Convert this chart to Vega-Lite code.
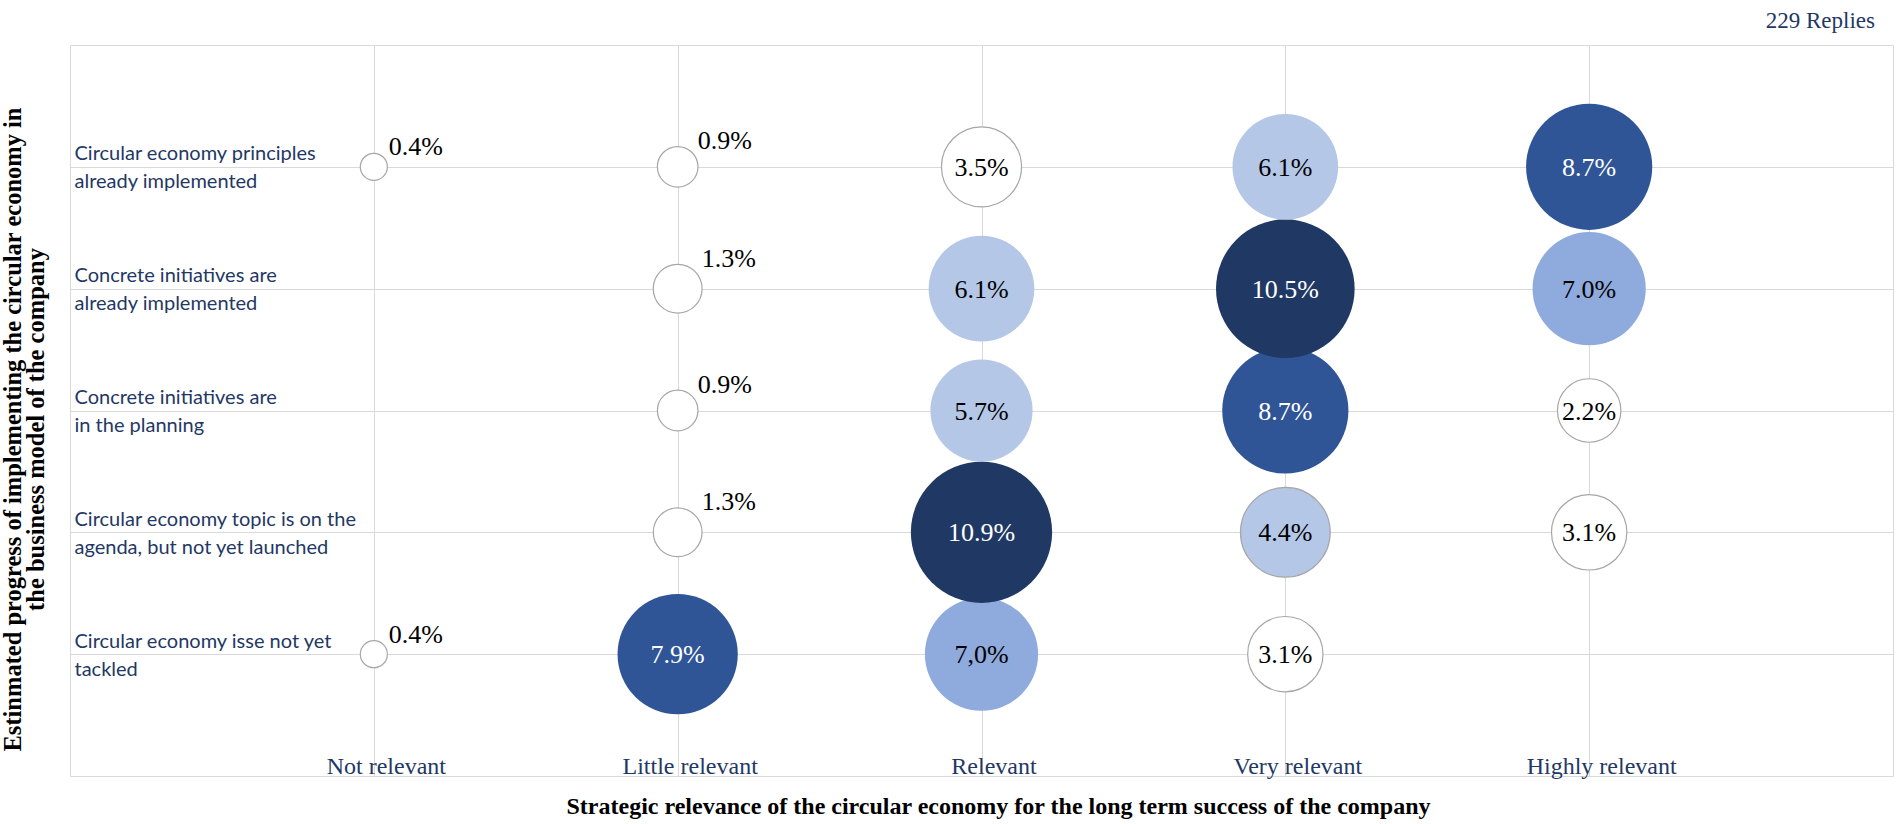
{
  "$schema": "https://vega.github.io/schema/vega-lite/v6.json",
  "width": 1823,
  "height": 731,
  "autosize": "none",
  "padding": {"left": 70, "top": 45, "right": 8, "bottom": 48},
  "background": "white",
  "title": {"text": "229 Replies", "anchor": "end", "orient": "top", "font": "Liberation Serif", "fontSize": 23, "fontWeight": "normal", "color": "#1f3864", "offset": 12, "dx": -18},
  "data": {"values": [
    {"relevance": "Not relevant", "progress": "Circular economy principles already implemented", "pct": 0.4, "label": "0.4%"},
    {"relevance": "Not relevant", "progress": "Circular economy isse not yet tackled", "pct": 0.4, "label": "0.4%"},
    {"relevance": "Little relevant", "progress": "Circular economy principles already implemented", "pct": 0.9, "label": "0.9%"},
    {"relevance": "Little relevant", "progress": "Concrete initiatives are already implemented", "pct": 1.3, "label": "1.3%"},
    {"relevance": "Little relevant", "progress": "Concrete initiatives are in the planning", "pct": 0.9, "label": "0.9%"},
    {"relevance": "Little relevant", "progress": "Circular economy topic is on the agenda, but not yet launched", "pct": 1.3, "label": "1.3%"},
    {"relevance": "Little relevant", "progress": "Circular economy isse not yet tackled", "pct": 7.9, "label": "7.9%"},
    {"relevance": "Relevant", "progress": "Circular economy principles already implemented", "pct": 3.5, "label": "3.5%"},
    {"relevance": "Relevant", "progress": "Concrete initiatives are in the planning", "pct": 5.7, "label": "5.7%"},
    {"relevance": "Relevant", "progress": "Concrete initiatives are already implemented", "pct": 6.1, "label": "6.1%"},
    {"relevance": "Relevant", "progress": "Circular economy isse not yet tackled", "pct": 7.0, "label": "7,0%"},
    {"relevance": "Relevant", "progress": "Circular economy topic is on the agenda, but not yet launched", "pct": 10.9, "label": "10.9%"},
    {"relevance": "Very relevant", "progress": "Circular economy isse not yet tackled", "pct": 3.1, "label": "3.1%"},
    {"relevance": "Very relevant", "progress": "Circular economy topic is on the agenda, but not yet launched", "pct": 4.4, "label": "4.4%"},
    {"relevance": "Very relevant", "progress": "Concrete initiatives are in the planning", "pct": 8.7, "label": "8.7%"},
    {"relevance": "Very relevant", "progress": "Concrete initiatives are already implemented", "pct": 10.5, "label": "10.5%"},
    {"relevance": "Very relevant", "progress": "Circular economy principles already implemented", "pct": 6.1, "label": "6.1%"},
    {"relevance": "Highly relevant", "progress": "Circular economy topic is on the agenda, but not yet launched", "pct": 3.1, "label": "3.1%"},
    {"relevance": "Highly relevant", "progress": "Concrete initiatives are in the planning", "pct": 2.2, "label": "2.2%"},
    {"relevance": "Highly relevant", "progress": "Concrete initiatives are already implemented", "pct": 7.0, "label": "7.0%"},
    {"relevance": "Highly relevant", "progress": "Circular economy principles already implemented", "pct": 8.7, "label": "8.7%"}
  ]},
  "encoding": {
    "x": {
      "field": "relevance", "type": "nominal",
      "scale": {"type": "point", "padding": 1, "domain": ["Not relevant", "Little relevant", "Relevant", "Very relevant", "Highly relevant"]},
      "axis": {
        "title": "Strategic relevance of the circular economy for the long term success of the company",
        "titleFont": "Liberation Serif", "titleFontSize": 24, "titleFontWeight": "bold", "titleColor": "#000000", "titlePadding": 16, "titleX": 928,
        "labelFont": "Liberation Serif", "labelFontSize": 24, "labelColor": "#1f3864", "labelAngle": 0,
        "labelPadding": -3, "labelBaseline": "alphabetic", "labelOffset": 12,
        "ticks": false, "domain": false, "grid": true, "gridColor": "#d9d9d9", "gridWidth": 1
      }
    },
    "y": {
      "field": "progress", "type": "nominal",
      "scale": {"type": "point", "padding": 1, "domain": [
        "Circular economy principles already implemented",
        "Concrete initiatives are already implemented",
        "Concrete initiatives are in the planning",
        "Circular economy topic is on the agenda, but not yet launched",
        "Circular economy isse not yet tackled"
      ]},
      "axis": {
        "title": ["Estinmated progress of implementing the circular economy in", "the business model of the company"],
        "titleFont": "Liberation Serif", "titleFontSize": 24.5, "titleFontWeight": "bold", "titleColor": "#000000", "titlePadding": 22, "titleLineHeight": 23, "titleY": 384,
        "labelFont": "Lato", "labelFontSize": 20, "labelLineHeight": 28, "labelColor": "#1f3864",
        "labelAlign": "left", "labelBaseline": "middle", "labelPadding": -4, "labelLimit": 500, "labelOffset": -13,
        "labelExpr": "datum.label == 'Circular economy principles already implemented' ? ['Circular economy principles', 'already implemented'] : datum.label == 'Concrete initiatives are already implemented' ? ['Concrete initiatives are', 'already implemented'] : datum.label == 'Concrete initiatives are in the planning' ? ['Concrete initiatives are', 'in the planning'] : datum.label == 'Circular economy topic is on the agenda, but not yet launched' ? ['Circular economy topic is on the', 'agenda, but not yet launched'] : ['Circular economy isse not yet', 'tackled']",
        "ticks": false, "domain": false, "grid": true, "gridColor": "#d9d9d9", "gridWidth": 1
      }
    }
  },
  "layer": [
    {
      "mark": {"type": "circle", "opacity": 1, "fillOpacity": 1, "stroke": "#a6a6a6", "strokeWidth": 1.2},
      "encoding": {
        "size": {"field": "pct", "type": "quantitative", "scale": {"type": "linear", "zero": true, "domain": [0, 10.9], "range": [0, 19950]}, "legend": null},
        "color": {"field": "pct", "type": "quantitative", "scale": {"type": "threshold", "domain": [4, 6.5, 7.5, 10], "range": ["#ffffff", "#b4c7e7", "#8faadc", "#2f5597", "#203864"]}, "legend": null},
        "strokeOpacity": {"field": "pct", "type": "quantitative", "scale": {"type": "threshold", "domain": [5], "range": [1, 0]}, "legend": null}
      }
    },
    {
      "transform": [{"filter": "datum.pct >= 2"}],
      "mark": {"type": "text", "font": "Liberation Serif", "fontSize": 26, "align": "center", "baseline": "middle", "dy": 1},
      "encoding": {
        "text": {"field": "label"},
        "color": {"field": "pct", "type": "quantitative", "scale": {"type": "threshold", "domain": [7.5], "range": ["#000000", "#ffffff"]}, "legend": null}
      }
    },
    {
      "transform": [{"filter": "datum.pct < 2"}],
      "mark": {"type": "text", "font": "Liberation Serif", "fontSize": 26, "align": "left", "baseline": "middle", "color": "#000000"},
      "encoding": {
        "text": {"field": "label"},
        "xOffset": {"field": "pct", "type": "quantitative", "scale": {"type": "linear", "zero": false, "domain": [0, 1.3], "range": [11, 24]}},
        "yOffset": {"field": "pct", "type": "quantitative", "scale": {"type": "linear", "zero": false, "domain": [0, 1.3], "range": [-15, -30]}}
      }
    }
  ],
  "resolve": {"scale": {"color": "independent"}},
  "config": {
    "view": {"stroke": "#d9d9d9", "strokeWidth": 1}
  }
}
